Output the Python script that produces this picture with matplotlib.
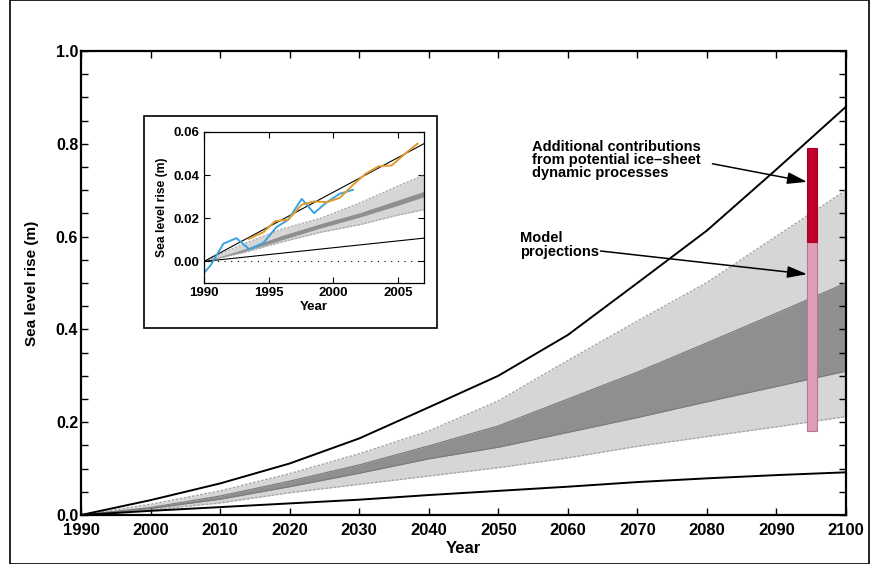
import numpy as np
import matplotlib
matplotlib.use('Agg')
import matplotlib.pyplot as plt
from matplotlib.patches import Rectangle
from matplotlib.ticker import MultipleLocator, FormatStrFormatter

plt.rcParams['font.family'] = ['Liberation Sans', 'DejaVu Sans']
plt.rcParams['font.weight'] = 'bold'

# Main projections (decadal points)
years = [1990, 2000, 2010, 2020, 2030, 2040, 2050, 2060, 2070, 2080, 2090, 2100]
upper_bound = [0.0, 0.032, 0.068, 0.111, 0.165, 0.232, 0.300, 0.388, 0.500, 0.613, 0.745, 0.880]
lower_bound = [0.0, 0.009, 0.017, 0.025, 0.033, 0.043, 0.052, 0.061, 0.071, 0.079, 0.086, 0.092]
light_hi = [0.0, 0.023, 0.052, 0.089, 0.132, 0.181, 0.246, 0.333, 0.418, 0.501, 0.601, 0.700]
light_lo = [0.0, 0.011, 0.026, 0.048, 0.066, 0.084, 0.102, 0.123, 0.148, 0.169, 0.190, 0.212]
dark_hi = [0.0, 0.016, 0.041, 0.073, 0.108, 0.149, 0.192, 0.250, 0.308, 0.371, 0.435, 0.500]
dark_lo = [0.0, 0.014, 0.034, 0.061, 0.090, 0.121, 0.146, 0.178, 0.210, 0.244, 0.277, 0.310]

# Bar at 2095
bar_year = 2095.1
model_proj = [0.18, 0.589]
ice_sheet = [0.589, 0.790]

# Inset: observations
tide_years = [1990.0, 1990.5, 1991.5, 1992.5, 1993.5, 1994.6, 1995.6, 1996.5, 1997.55, 1998.5, 1999.5, 2000.5, 2001.5]
tide_vals = [-0.0053, -0.0019, 0.0082, 0.0108, 0.0056, 0.0087, 0.0159, 0.0193, 0.0290, 0.0224, 0.0275, 0.0314, 0.0332]
sat_years = [1993.46, 1994.6, 1995.5, 1996.5, 1997.55, 1998.5, 1999.5, 2000.5, 2001.55, 2002.5, 2003.5, 2004.5, 2005.55, 2006.5]
sat_vals = [0.0105, 0.0136, 0.0187, 0.0193, 0.0263, 0.0278, 0.0275, 0.0295, 0.0357, 0.0407, 0.0441, 0.0445, 0.0500, 0.0546]

# Inset: projection envelope
in_years = [1990, 1993, 1996, 1999, 2002, 2005, 2007]
in_light_hi = [0.0, 0.008, 0.015, 0.020, 0.027, 0.035, 0.040]
in_light_lo = [0.0, 0.004, 0.009, 0.0135, 0.017, 0.0215, 0.024]
in_dark_hi = [0.0, 0.0055, 0.012, 0.0175, 0.0225, 0.0285, 0.0325]
in_dark_lo = [0.0, 0.0045, 0.010, 0.0155, 0.0205, 0.026, 0.030]
in_line_years = [1990, 2007]
in_upper = [0.0, 0.0546]
in_lower = [0.0, 0.0108]

LIGHT = '#d6d6d6'
DARK = '#8f8f8f'

W, H = 873, 564
fig = plt.figure(figsize=(W / 100, H / 100), dpi=100)


def px_box(x0, y0, x1, y1):
    # pixel box (top-left origin) -> figure fraction [left, bottom, width, height]
    return [x0 / W, (H - y1) / H, (x1 - x0) / W, (y1 - y0) / H]


ax = fig.add_axes(px_box(81, 51, 846, 515))
ax.fill_between(years, light_lo, light_hi, color=LIGHT, lw=0)
ax.fill_between(years, dark_lo, dark_hi, color=DARK, lw=0)
ax.plot(years, light_hi, color='#a8a8a8', lw=1.0, ls=(0, (2, 1)))
ax.plot(years, light_lo, color='#a8a8a8', lw=1.0, ls=(0, (2, 1)))
ax.plot(years, dark_hi, color='#7a7a7a', lw=0.8)
ax.plot(years, dark_lo, color='#7a7a7a', lw=0.8)
ax.plot(years, upper_bound, color='black', lw=1.4)
ax.plot(years, lower_bound, color='black', lw=1.4)

ax.bar(bar_year, model_proj[1] - model_proj[0], bottom=model_proj[0], width=1.44,
       color='#e19cb8', edgecolor='#b47a92', lw=0.8, zorder=4)
ax.bar(bar_year, ice_sheet[1] - ice_sheet[0], bottom=ice_sheet[0], width=1.44,
       color='#c0002a', edgecolor='#a80025', lw=0.8, zorder=4)

arrow = dict(arrowstyle='-|>,head_length=1.2,head_width=0.36', color='black', lw=1.1,
             shrinkA=0, shrinkB=0)
ax.annotate('', xy=(2094.4, 0.718), xytext=(2080.8, 0.757), arrowprops=arrow, zorder=5)
ax.annotate('', xy=(2094.4, 0.519), xytext=(2064.7, 0.569), arrowprops=arrow, zorder=5)
ax.text(2054.9, 0.765, 'Additional contributions\nfrom potential ice\u2013sheet\ndynamic processes',
        fontsize=10.5, fontweight='bold', ha='left', va='center', linespacing=0.92)
ax.text(2053.1, 0.582, 'Model\nprojections', fontsize=10.5, fontweight='bold',
        ha='left', va='center', linespacing=0.92)

ax.set_xlim(1990, 2100)
ax.set_ylim(0, 1.0)
ax.xaxis.set_major_locator(MultipleLocator(10))
ax.yaxis.set_major_locator(MultipleLocator(0.2))
ax.yaxis.set_minor_locator(MultipleLocator(0.05))
ax.yaxis.set_major_formatter(FormatStrFormatter('%.1f'))
ax.tick_params(which='both', direction='in', top=True, right=True, length=5, width=1.0)
ax.tick_params(axis='x', labelsize=12, pad=6)
ax.tick_params(axis='y', labelsize=11.5, pad=2)
for lab in ax.get_xticklabels() + ax.get_yticklabels():
    lab.set_fontweight('bold')
for s in ax.spines.values():
    s.set_linewidth(1.6)
ax.set_xlabel('Year', fontsize=12, fontweight='bold', labelpad=2)
ax.set_ylabel('Sea level rise (m)', fontsize=11, fontweight='bold', labelpad=12)

# outer frame and inset frame
fig.patches.append(Rectangle((10 / W, 0), 859 / W, (H - 11) / H + 0.02, transform=fig.transFigure,
                             fill=False, ec='black', lw=1.2, zorder=1))
fig.patches.append(Rectangle(px_box(144, 116, 437, 328)[:2], 293 / W, 212 / H,
                             transform=fig.transFigure, fc='white', ec='black', lw=1.2, zorder=2))

ins = fig.add_axes(px_box(204, 132, 424, 283), zorder=5)
ins.fill_between(in_years, in_light_lo, in_light_hi, color=LIGHT, lw=0)
ins.fill_between(in_years, in_dark_lo, in_dark_hi, color=DARK, lw=0)
for ser in (in_light_hi, in_light_lo):
    ins.plot(in_years, ser, color='#a8a8a8', lw=0.9, ls=(0, (2, 1)))
ins.plot(in_line_years, [0, 0], color='black', lw=0.8, ls=(0, (1, 5)))
ins.plot(in_line_years, in_upper, color='black', lw=0.8)
ins.plot(in_line_years, in_lower, color='black', lw=0.8)
ins.plot(tide_years, tide_vals, color='#3aa3e0', lw=1.4)
ins.plot(sat_years, sat_vals, color='#e09a2c', lw=1.4)
ins.set_xlim(1990, 2007)
ins.set_ylim(-0.01, 0.06)
ins.xaxis.set_major_locator(MultipleLocator(5))
ins.yaxis.set_major_locator(MultipleLocator(0.02))
ins.yaxis.set_major_formatter(FormatStrFormatter('%.2f'))
ins.tick_params(direction='in', top=True, right=True, length=4, width=0.8, labelsize=9.5, pad=3)
for lab in ins.get_xticklabels() + ins.get_yticklabels():
    lab.set_fontweight('bold')
for s in ins.spines.values():
    s.set_linewidth(0.9)
ins.set_xlabel('Year', fontsize=9.5, fontweight='bold', labelpad=1)
ins.set_ylabel('Sea level rise (m)', fontsize=8.7, fontweight='bold', labelpad=4)

fig.savefig('out.png', dpi=100)
